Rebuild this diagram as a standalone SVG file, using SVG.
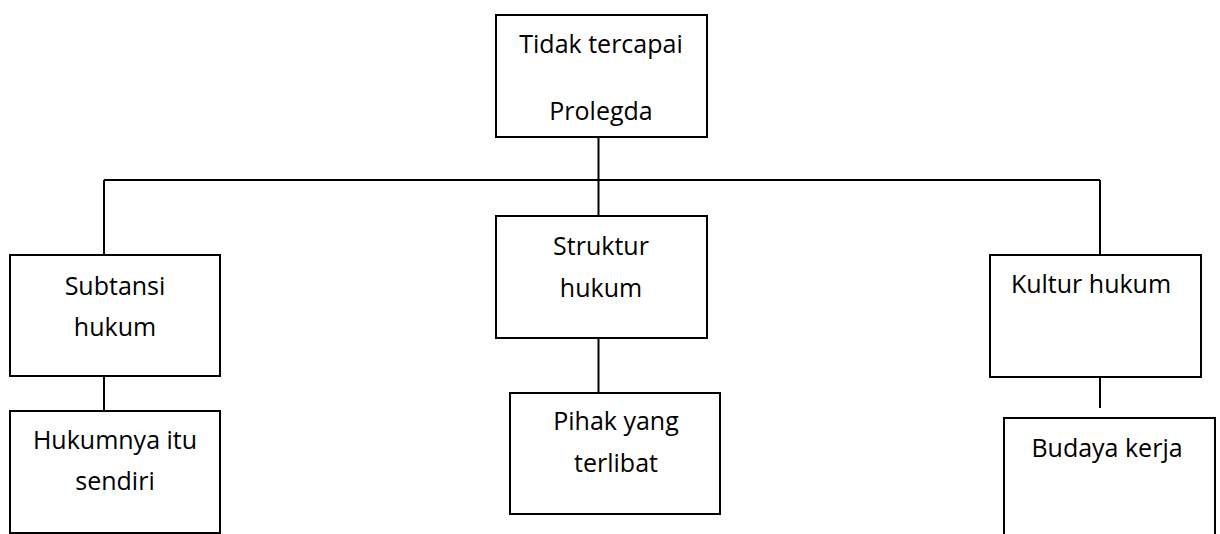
<svg xmlns="http://www.w3.org/2000/svg" width="1220" height="534" viewBox="0 0 1220 534">
<style>
.box{fill:#fff;stroke:#000;stroke-width:2}
.lbl{font-family:"Open Sans","Liberation Sans",sans-serif;font-size:25px;fill:#000;text-anchor:middle}
.con{stroke:#000;stroke-width:2;fill:none}
</style>
<rect width="1220" height="534" fill="#fff"/>
<g id="connectors">
<line class="con" x1="598.5" y1="137" x2="598.5" y2="216"/>
<line class="con" x1="104" y1="180" x2="1100" y2="180"/>
<line class="con" x1="104" y1="180" x2="104" y2="255"/>
<line class="con" x1="1100" y1="180" x2="1100" y2="255"/>
<line class="con" x1="104" y1="376" x2="104" y2="411"/>
<line class="con" x1="598.5" y1="338" x2="598.5" y2="393"/>
<line class="con" x1="1100" y1="377" x2="1100" y2="408"/>
</g>
<g id="n-top">
<rect class="box" x="496" y="15" width="211" height="122"/>
<text class="lbl" x="601" y="53">Tidak tercapai</text>
<text class="lbl" x="601" y="120">Prolegda</text>
</g>
<g id="n-subtansi">
<rect class="box" x="10" y="255" width="210" height="121"/>
<text class="lbl" x="115" y="295">Subtansi</text>
<text class="lbl" x="115" y="336">hukum</text>
</g>
<g id="n-hukumnya">
<rect class="box" x="10" y="411" width="210" height="122"/>
<text class="lbl" x="115" y="449">Hukumnya itu</text>
<text class="lbl" x="115" y="490">sendiri</text>
</g>
<g id="n-struktur">
<rect class="box" x="496" y="216" width="211" height="122"/>
<text class="lbl" x="601" y="255">Struktur</text>
<text class="lbl" x="601" y="297">hukum</text>
</g>
<g id="n-pihak">
<rect class="box" x="510" y="393" width="210" height="121"/>
<text class="lbl" x="616" y="430">Pihak yang</text>
<text class="lbl" x="616" y="472">terlibat</text>
</g>
<g id="n-kultur">
<rect class="box" x="990" y="255" width="211" height="122"/>
<text class="lbl" x="1091" y="293">Kultur hukum</text>
</g>
<g id="n-budaya">
<rect class="box" x="1004" y="418" width="211" height="130"/>
<text class="lbl" x="1107" y="457">Budaya kerja</text>
</g>
</svg>
